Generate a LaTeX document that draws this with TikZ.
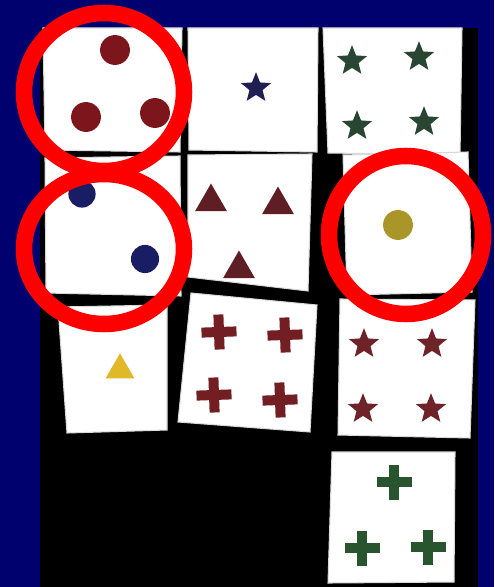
\documentclass[tikz,border=0pt]{standalone}
\usepackage{tikz}
\usetikzlibrary{shapes.geometric}
\definecolor{bgnavy}{RGB}{0,0,110}
\definecolor{ringred}{RGB}{255,0,0}
\definecolor{dotmaroon}{RGB}{125,22,28}
\definecolor{dotblue}{RGB}{25,30,100}
\definecolor{starnavy}{RGB}{30,30,80}
\definecolor{stargreen}{RGB}{40,70,50}
\definecolor{trimaroon}{RGB}{95,30,35}
\definecolor{dotyellow}{RGB}{170,150,40}
\definecolor{triyellow}{RGB}{225,185,40}
\definecolor{plusmaroon}{RGB}{115,30,35}
\definecolor{starmaroon}{RGB}{110,35,40}
\definecolor{plusgreen}{RGB}{40,85,45}

\begin{document}
\begin{tikzpicture}[
    x=0.02cm, y=-0.02cm,
    card/.style={fill=white, draw=black!15, line width=0.6pt},
    dot/.style={circle, inner sep=0, minimum size=17pt},
    starsym/.style={star, star points=5, star point ratio=2.3, inner sep=0, minimum size=18pt},
    trisym/.style={regular polygon, regular polygon sides=3, inner sep=0, minimum size=21pt},
    ring/.style={draw=ringred, line width=9.4pt},
    plus/.pic={\fill (-17.5,-5) rectangle (17.5,5); \fill (-5,-17.5) rectangle (5,17.5);}
]
    \useasboundingbox (0,0) rectangle (494,587);
    \fill[bgnavy] (0,0) rectangle (494,587);
    \fill[black] (40,28) rectangle (478,587);

    % Cards
    \filldraw[card] (43,28) -- (182,28) -- (180,152) -- (45,150) -- cycle;
    \filldraw[card] (188,28) -- (318,28) -- (317,152) -- (189,150) -- cycle;
    \filldraw[card] (323,28) -- (462,28) -- (460,155) -- (328,153) -- cycle;
    \filldraw[card] (45,158) -- (180,156) -- (181,296) -- (46,293) -- cycle;
    \filldraw[card] (188,155) -- (312,154) -- (308,291) -- (188,277) -- cycle;
    \filldraw[card] (343,155) -- (468,152) -- (472,292) -- (347,295) -- cycle;
    \filldraw[card] (58,307) -- (167,305) -- (167,430) -- (67,433) -- cycle;
    \filldraw[card] (191,293) -- (317,305) -- (310,432) -- (178,422) -- cycle;
    \filldraw[card] (340,299) -- (475,300) -- (470,438) -- (338,435) -- cycle;
    \filldraw[card] (332,452) -- (455,452) -- (454,582) -- (328,583) -- cycle;

    % Symbols
    \node[dot, fill=dotmaroon] (redA) at (115,50) {};
    \node[dot, fill=dotmaroon] (redB) at (86,117) {};
    \node[dot, fill=dotmaroon] (redC) at (155,113) {};
    \node[starsym, fill=starnavy] (navystar) at (256,88) {};
    \node[starsym, fill=stargreen] (greenA) at (352,61) {};
    \node[starsym, fill=stargreen] (greenB) at (419,57) {};
    \node[starsym, fill=stargreen] (greenC) at (357,126) {};
    \node[starsym, fill=stargreen] (greenD) at (424,122) {};
    \node[dot, fill=dotblue, minimum size=15.5pt] (blueA) at (82,194) {};
    \node[dot, fill=dotblue, minimum size=16pt] (blueB) at (145,259) {};
    \node[trisym, fill=trimaroon] (triA) at (211,202) {};
    \node[trisym, fill=trimaroon] (triB) at (278,205) {};
    \node[trisym, fill=trimaroon] (triC) at (239,269) {};
    \node[dot, fill=dotyellow] (yellowdot) at (398,225) {};
    \node[trisym, fill=triyellow, minimum size=19pt] (yellowtri) at (120,370) {};
    \pic[plusmaroon, rotate=2] (plusA) at (219,332) {plus};
    \pic[plusmaroon, rotate=2] (plusB) at (285,335) {plus};
    \pic[plusmaroon, rotate=2] (plusC) at (214,395) {plus};
    \pic[plusmaroon, rotate=2] (plusD) at (280,400) {plus};
    \node[starsym, fill=starmaroon] (maroonA) at (364,344) {};
    \node[starsym, fill=starmaroon] (maroonB) at (432,344) {};
    \node[starsym, fill=starmaroon] (maroonC) at (363,409) {};
    \node[starsym, fill=starmaroon] (maroonD) at (431,409) {};
    \pic[plusgreen] (greenplusA) at (394,482) {plus};
    \pic[plusgreen] (greenplusB) at (362,548) {plus};
    \pic[plusgreen] (greenplusC) at (428,547) {plus};

    % Rings
    \draw[ring] (104,92) ellipse [x radius=80, y radius=79];
    \draw[ring] (104,249) ellipse [x radius=80, y radius=75];
    \draw[ring] (406,235) ellipse [x radius=77, y radius=79];
\end{tikzpicture}
\end{document}
